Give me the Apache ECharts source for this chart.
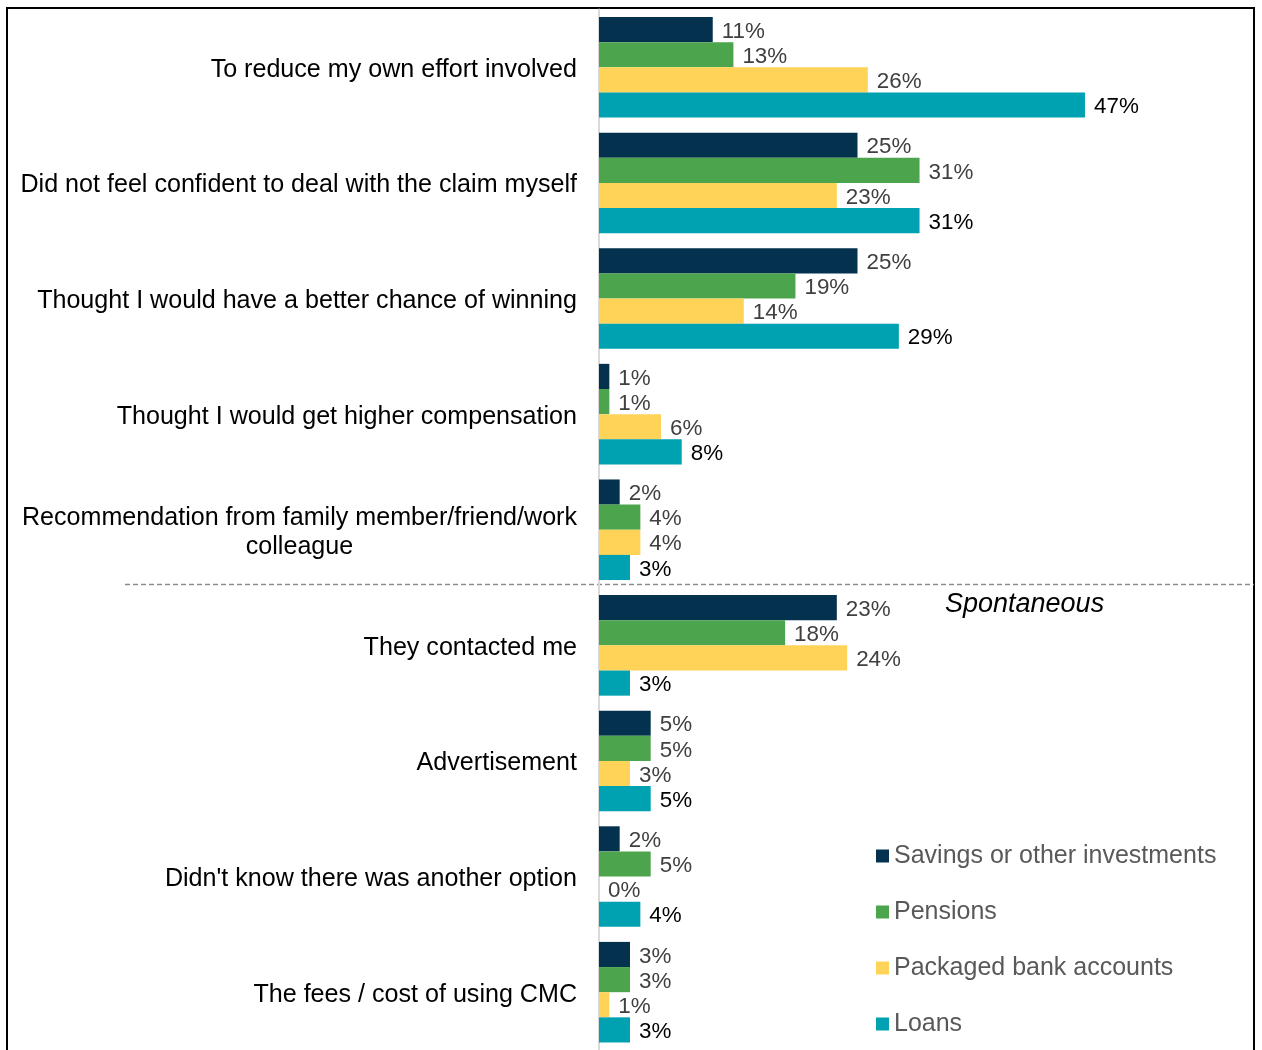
<!DOCTYPE html>
<html>
<head>
<meta charset="utf-8">
<title>Reasons for using a CMC</title>
<script src="https://cdn.jsdelivr.net/npm/echarts@6/dist/echarts.min.js"></script>
<style>
  html, body { margin: 0; padding: 0; background: #fff; }
  #chart { width: 1262px; height: 1050px; }
</style>
</head>
<body>
<div id="chart"></div>
<script>
// Reasons given, top to bottom
const categories = [
  'To reduce my own effort involved',
  'Did not feel confident to deal with the claim myself',
  'Thought I would have a better chance of winning',
  'Thought I would get higher compensation',
  'Recommendation from family member/friend/work\ncolleague',
  'They contacted me',
  'Advertisement',
  "Didn't know there was another option",
  'The fees / cost of using CMC'
];

const seriesNames = ['Savings or other investments', 'Pensions', 'Packaged bank accounts', 'Loans'];

// Percentages per reason, one array per product
const savings  = [11, 25, 25, 1, 2, 23, 5, 2, 3];
const pensions = [13, 31, 19, 1, 4, 18, 5, 5, 3];
const packaged = [26, 23, 14, 6, 4, 24, 3, 0, 1];
const loans    = [47, 31, 29, 8, 3, 3, 5, 4, 3];

// Reasons after this index were given spontaneously
const promptedCount = 5;

const seriesValues = [savings, pensions, packaged, loans];
const colors = ['#04324E', '#4CA54C', '#FFD357', '#00A1B0'];
const labelColors = ['#404040', '#404040', '#404040', '#000000'];
const FONT = 'Liberation Sans, Arial, sans-serif';

const chart = echarts.init(document.getElementById('chart'), null, { renderer: 'canvas' });

const option = {
  backgroundColor: '#ffffff',
  animation: false,
  grid: { left: 599, top: 9.5, width: 620.4, height: 1043.5, containLabel: false },
  xAxis: {
    type: 'value',
    min: 0,
    max: 60,
    show: false
  },
  yAxis: {
    type: 'category',
    inverse: true,
    data: categories,
    axisTick: { show: false },
    axisLine: { show: true, lineStyle: { color: '#D9D9D9', width: 2 } },
    splitLine: { show: false },
    axisLabel: {
      margin: 22,
      color: '#000000',
      fontSize: 25.1,
      fontFamily: FONT,
      lineHeight: 29,
      padding: [5, 0, 0, 0],
      formatter: function (v) {
        if (v.indexOf('\n') >= 0) {
          return v.split('\n').map(function (l) { return '{c|' + l + '}'; }).join('\n');
        }
        return v;
      },
      rich: {
        c: { align: 'center', fontSize: 25.1, fontFamily: FONT, color: '#000000', lineHeight: 29 }
      }
    }
  },
  legend: {
    orient: 'vertical',
    left: 876,
    top: 843,
    bottom: 0,
    padding: 0,
    itemWidth: 13,
    itemHeight: 13,
    itemGap: 30,
    icon: 'rect',
    data: seriesNames,
    textStyle: { color: '#595959', fontSize: 25, fontFamily: FONT, lineHeight: 26 }
  },
  series: seriesNames.map(function (name, i) {
    return {
      name: name,
      type: 'bar',
      data: seriesValues[i],
      barGap: '0%',
      barCategoryGap: '13%',
      itemStyle: { color: colors[i] },
      label: {
        show: true,
        position: 'right',
        distance: 9,
        offset: [0, 2],
        color: labelColors[i],
        fontSize: 22.4,
        fontFamily: FONT,
        formatter: '{c}%'
      }
    };
  })
};

chart.setOption(option);

// Separator between prompted and spontaneous reasons, plus frame
function drawDecorations() {
  const yA = chart.convertToPixel({ yAxisIndex: 0 }, promptedCount - 1);
  const yB = chart.convertToPixel({ yAxisIndex: 0 }, promptedCount);
  const sepY = Math.round((yA + yB) / 2) - 4 + 0.5;
  chart.setOption({
    graphic: [
      {
        type: 'rect',
        shape: { x: 7, y: 8, width: 1247, height: 1060 },
        style: { fill: 'none', stroke: '#000000', lineWidth: 2 },
        silent: true
      },
      {
        type: 'line',
        shape: { x1: 125, y1: sepY, x2: 1254, y2: sepY },
        style: { stroke: '#8C8C8C', lineWidth: 1.3, lineDash: [5, 3] },
        silent: true
      },
      {
        type: 'text',
        x: 945,
        y: sepY + 20,
        style: {
          text: 'Spontaneous',
          fill: '#000000',
          font: 'italic 27px ' + FONT,
          textVerticalAlign: 'middle',
          verticalAlign: 'middle'
        },
        silent: true
      }
    ]
  });
}
drawDecorations();
</script>
</body>
</html>
